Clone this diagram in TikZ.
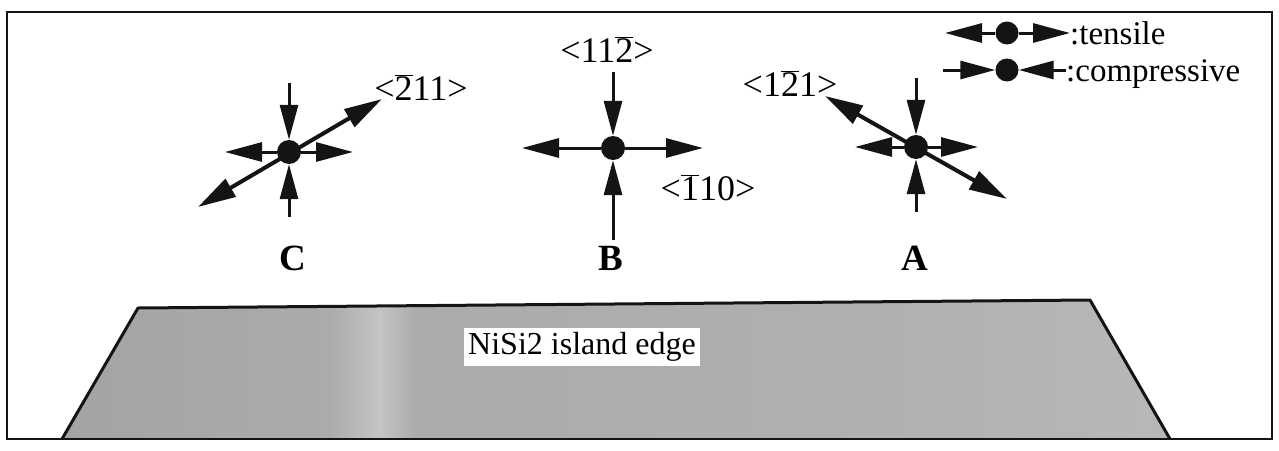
\documentclass[tikz,border=0pt]{standalone}
\usepackage{fontspec}
\setmainfont{Liberation Serif}
\usetikzlibrary{arrows.meta}
\definecolor{inkblack}{HTML}{141414}
\pgfdeclarehorizontalshading{islandgray}{100bp}{color(0bp)=(gray!72); color(25bp)=(gray!72);
  color(37bp)=(gray!66); color(39.3bp)=(gray!46); color(41bp)=(gray!66);
  color(62bp)=(gray!62); color(75bp)=(gray!56); color(100bp)=(gray!56)}
\newcommand{\bardig}[1]{$\overline{\mbox{#1}}$}

\begin{document}
\begin{tikzpicture}[
    x=1pt, y=-1pt,
    font=\fontsize{36}{40}\selectfont,
    dot/.style={circle, fill=inkblack, minimum size=24pt, inner sep=0pt},
    tens/.style={draw=inkblack, line width=3pt, -{Triangle[length=37pt, width=19pt]}},
    comp/.style={draw=inkblack, line width=3pt, -{Triangle[length=35pt, width=18pt]}},
    diag/.style={draw=inkblack, line width=4pt,
      {Triangle[length=38pt, width=20pt]}-{Triangle[length=38pt, width=20pt]}},
    lbl/.style={inner sep=0pt},
    site/.style={inner sep=0pt, font=\fontsize{37}{40}\selectfont\bfseries},
    legtxt/.style={inner sep=0pt, anchor=base west, font=\fontsize{33}{36}\selectfont},
  ]
  \useasboundingbox (0,0) rectangle (1279,450);

  % ----- island -----
  \shade[shading=islandgray] (62,439) -- (138,308) -- (1090,300) -- (1170,439) -- cycle;
  \draw[inkblack, line width=3pt, line join=round] (62,439) -- (138,308) -- (1090,300) -- (1170,439);
  \node[fill=white, inner sep=4pt, font=\fontsize{32}{36}\selectfont] (edge) at (582,347) {NiSi2 island edge};

  % ----- frame -----
  \draw[inkblack, line width=2.5pt] (7,12) rectangle (1272,439);

  % ----- site C -----
  \node[dot] (dotC) at (289,152) {};
  \coordinate (cN) at (289,83);  \coordinate (cS) at (289,217);
  \coordinate (cW) at (225,152); \coordinate (cE) at (353,152);
  \coordinate (cSW) at (198,207); \coordinate (cNE) at (382,99);
  \draw[comp] (cN) -- (dotC);
  \draw[comp] (cS) -- (dotC);
  \draw[tens] (dotC) -- (cW);
  \draw[tens] (dotC) -- (cE);
  \draw[diag] (cSW) -- (cNE);
  \node[lbl] (dirC) at (421,88) {<\bardig{2}11>};
  \node[site] (siteC) at (293,258) {C};

  % ----- site B -----
  \node[dot] (dotB) at (613,148) {};
  \coordinate (bN) at (613,72);  \coordinate (bS) at (613,240);
  \coordinate (bW) at (522,148); \coordinate (bE) at (703,148);
  \draw[comp] (bN) -- (dotB);
  \draw[comp] (bS) -- (dotB);
  \draw[tens] (dotB) -- (bW);
  \draw[tens] (dotB) -- (bE);
  \node[lbl] (dirBtop) at (607,50) {<11\bardig{2}>};
  \node[lbl] (dirBside) at (708,188) {<\bardig{1}10>};
  \node[site] (siteB) at (611,258) {B};

  % ----- site A -----
  \node[dot] (dotA) at (916,147) {};
  \coordinate (aN) at (916,78);  \coordinate (aS) at (916,212);
  \coordinate (aW) at (855,147); \coordinate (aE) at (978,147);
  \coordinate (aNW) at (825,96); \coordinate (aSE) at (1007,199);
  \draw[comp] (aN) -- (dotA);
  \draw[comp] (aS) -- (dotA);
  \draw[tens] (dotA) -- (aW);
  \draw[tens] (dotA) -- (aE);
  \draw[diag] (aNW) -- (aSE);
  \node[lbl] (dirA) at (790,84) {<1\bardig{2}1>};
  \node[site] (siteA) at (915,258) {A};

  % ----- legend -----
  \node[dot, minimum size=23pt] (legTdot) at (1007,33) {};
  \coordinate (legTW) at (945,33); \coordinate (legTE) at (1070,33);
  \draw[tens] (legTdot) -- (legTW);
  \draw[tens] (legTdot) -- (legTE);
  \node[legtxt] (legTtxt) at (1070,44) {:tensile};

  \node[dot, minimum size=23pt] (legCdot) at (1007,70) {};
  \coordinate (legCW) at (943,70); \coordinate (legCE) at (1066,70);
  \draw[comp] (legCW) -- (legCdot);
  \draw[comp] (legCE) -- (legCdot);
  \node[legtxt] (legCtxt) at (1066,81) {:compressive};
\end{tikzpicture}
\end{document}
